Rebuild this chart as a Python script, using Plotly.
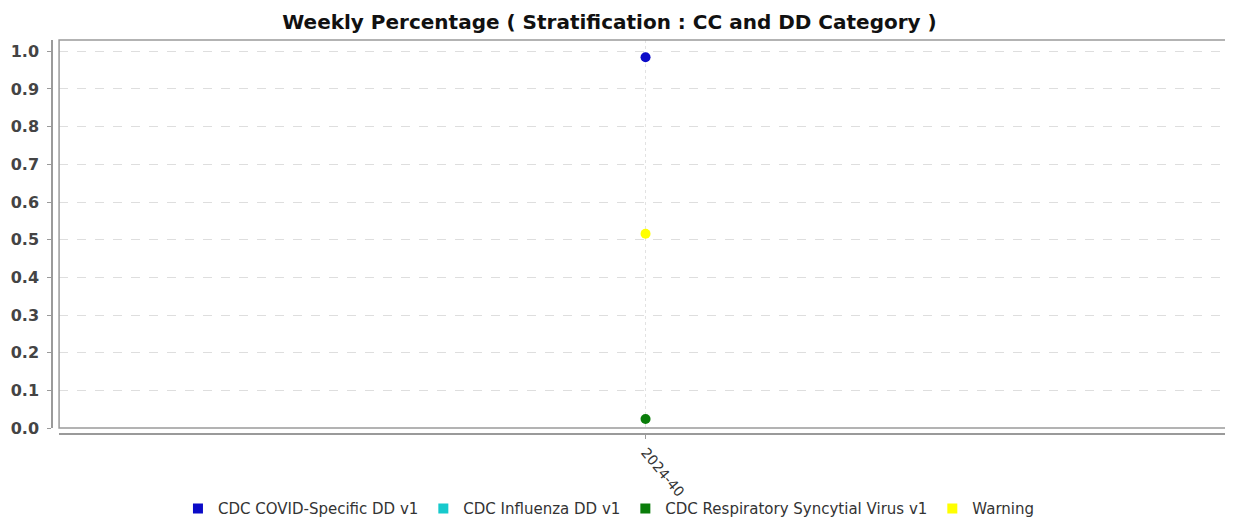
import plotly.graph_objects as go

# weekly category axis and the four series
weeks = ['2024-40']
series_names = ['CDC COVID-Specific DD v1', 'CDC Influenza DD v1',
                'CDC Respiratory Syncytial Virus v1', 'Warning']
covid_vals = [0.984]
flu_vals = [None]
rsv_vals = [0.024]
warning_vals = [0.516]
y_ticks = [0.0, 0.1, 0.2, 0.3, 0.4, 0.5, 0.6, 0.7, 0.8, 0.9, 1.0]

COLORS = ['#0b0bc8', '#17c9cc', '#0a7d0a', '#ffff00']
FONT = 'DejaVu Sans, Verdana, sans-serif'

fig = go.Figure()
for name, vals, col in zip(series_names, [covid_vals, flu_vals, rsv_vals, warning_vals], COLORS):
    # actual points (round dots)
    fig.add_trace(go.Scatter(
        x=weeks, y=vals, name=name, mode='markers', showlegend=False,
        marker=dict(color=col, size=10, symbol='circle'),
    ))
for name, col in zip(series_names, COLORS):
    # legend entries use square swatches like the original
    fig.add_trace(go.Scatter(
        x=weeks, y=[None], name=name, mode='markers',
        marker=dict(color=col, size=10, symbol='square'),
    ))

# plot border (JFreeChart style box)
shapes = [dict(type='rect', xref='x domain', yref='y domain', x0=0, x1=1, y0=0, y1=1,
               line=dict(color='#9a9a9a', width=1.5), layer='above')]

# page body has an 8px margin, so the figure is shifted to compensate
fig.update_layout(
    width=1225, height=519,
    margin=dict(l=44, r=1, t=32, b=93),
    paper_bgcolor='white', plot_bgcolor='white',
    title=dict(text='<b>Weekly Percentage ( Stratification : CC and DD Category )</b>',
               x=0.491, xanchor='center', y=1 - 14 / 519, yanchor='middle',
               font=dict(family=FONT, size=20, color='#111111')),
    xaxis=dict(domain=[0.006, 1], anchor='free', position=0, type='category',
               showline=True, linecolor='#9a9a9a', linewidth=1.5,
               showgrid=True, gridcolor='#e2e2e2', griddash='dot', gridwidth=1,
               ticks='outside', ticklen=4, tickcolor='#9a9a9a',
               tickangle=50, tickfont=dict(family=FONT, size=14, color='#333333'),
               zeroline=False, fixedrange=True),
    yaxis=dict(domain=[0.015, 1], anchor='free', position=0, range=[0, 1.03],
               tickvals=y_ticks, ticktext=[f'{v:.1f}' for v in y_ticks],
               showline=True, linecolor='#9a9a9a', linewidth=1.5,
               showgrid=True, gridcolor='#dedede', griddash='dash', gridwidth=1,
               ticks='outside', ticklen=4, tickcolor='#9a9a9a', ticklabelstandoff=5,
               tickfont=dict(family=FONT, size=16, color='#444444', weight='bold'),
               zeroline=False),
    showlegend=True,
    legend=dict(orientation='h', x=0.472, xanchor='center', y=-0.19, yanchor='middle',
                bgcolor='rgba(0,0,0,0)',
                font=dict(family=FONT, size=15, color='#333333'),
                itemsizing='trace', traceorder='normal', itemwidth=30),
    shapes=shapes,
)

fig.write_html('out.html')
